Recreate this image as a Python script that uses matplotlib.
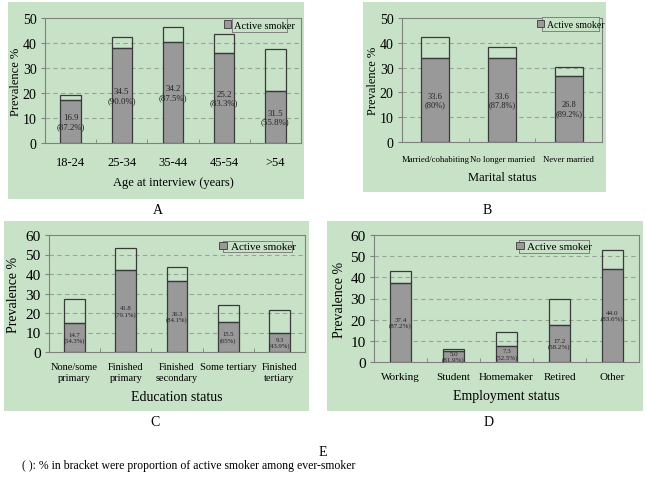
import numpy as np
import matplotlib
matplotlib.use("Agg")
import matplotlib.pyplot as plt
from matplotlib.patches import Rectangle, Patch

plt.rcParams['font.family'] = ['Liberation Serif', 'DejaVu Serif']

W, H = 647, 481
GREEN = '#c8e2c8'
BAR_GRAY = '#999999'
EDGE = '#3a3a3a'
FRAME = '#808080'

# panel A - age
a_cats = ['18-24', '25-34', '35-44', '45-54', '>54']
a_total = [19.4, 42.3, 46.3, 43.6, 37.5]
a_active = [17.2, 37.9, 40.3, 35.9, 20.8]
a_val = ['16.9', '34.5', '34.2', '25.2', '31.5']
a_pct = ['(87.2%)', '(90.0%)', '(87.5%)', '(83.3%)', '(55.8%)']

# panel B - marital
b_cats = ['Married/cohabiting', 'No longer married', 'Never married']
b_total = [42.2, 38.4, 30.3]
b_active = [33.7, 33.7, 26.8]
b_val = ['33.6', '33.6', '26.8']
b_pct = ['(80%)', '(87.8%)', '(89.2%)']

# panel C - education
c_cats = ['None/some\nprimary', 'Finished\nprimary', 'Finished\nsecondary',
          'Some tertiary', 'Finished\ntertiary']
c_total = [27.4, 53.1, 43.4, 24.0, 21.6]
c_active = [14.9, 42.0, 36.6, 15.4, 9.6]
c_val = ['14.7', '41.8', '36.3', '15.5', '9.3']
c_pct = ['(54.3%)', '(79.1%)', '(84.1%)', '(65%)', '(43.9%)']

# panel D - employment
d_cats = ['Working', 'Student', 'Homemaker', 'Retired', 'Other']
d_total = [42.8, 6.2, 14.2, 29.7, 52.9]
d_active = [37.3, 5.0, 7.5, 17.3, 43.9]
d_val = ['37.4', '5.0', '7.3', '17.2', '44.0']
d_pct = ['(87.2%)', '(81.9%)', '(52.5%)', '(58.2%)', '(83.6%)']


def px_box(x0, y0, x1, y1):
    # pixel box (top-left origin) -> figure fraction rect
    return [x0 / W, 1 - y1 / H, (x1 - x0) / W, (y1 - y0) / H]


fig = plt.figure(figsize=(W / 100, H / 100), dpi=100)
fig.patch.set_facecolor('white')


def green_bg(x0, y0, x1, y1):
    b = px_box(x0, y0, x1, y1)
    fig.patches.append(Rectangle((b[0], b[1]), b[2], b[3], transform=fig.transFigure,
                                 facecolor=GREEN, edgecolor='none', zorder=-10))


def panel(box, cats, total, active, vals, pcts, ymax, xlabel,
          tick_fs, lab_fs, ann_fs, leg_fs, leg_box, ylab_x, xlab_y,
          width=0.4, xpad=4):
    ax = fig.add_axes(px_box(*box))
    ax.set_facecolor('none')
    x = np.arange(len(cats))
    active = np.array(active)
    total = np.array(total)
    ax.bar(x, active, width, color=BAR_GRAY, edgecolor=EDGE, linewidth=0.9, zorder=3)
    ax.bar(x, total - active, width, bottom=active, color='none',
           edgecolor=EDGE, linewidth=0.9, zorder=3)
    for xi, h, v, p in zip(x, active, vals, pcts):
        ax.text(xi, h / 2, v + '\n' + p, ha='center', va='center',
                fontsize=ann_fs, color='#222222', linespacing=1.1, zorder=4)
    ax.set_xlim(-0.5, len(cats) - 0.5)
    ax.set_ylim(0, ymax)
    ax.set_yticks(np.arange(0, ymax + 1, 10))
    for yv in np.arange(10, ymax, 10):
        ax.axhline(yv, color='#95a595', lw=0.8, ls=(0, (4, 3)), zorder=1)
    ax.set_xticks(x)
    ax.set_xticklabels(cats, fontsize=tick_fs, linespacing=1.3)
    ax.set_xticks(np.arange(-0.5, len(cats)), minor=True)
    ax.tick_params(axis='x', which='major', length=0, pad=xpad)
    ax.tick_params(axis='x', which='minor', length=3, direction='in', color=FRAME)
    ax.tick_params(axis='y', labelsize=lab_fs + 1, length=3, color=FRAME, pad=3)
    for s in ax.spines.values():
        s.set_color(FRAME)
        s.set_linewidth(0.8)
    ax.set_xlabel(xlabel, fontsize=lab_fs)
    ax.set_ylabel('Prevalence %', fontsize=lab_fs)
    bw, bh = box[2] - box[0], box[3] - box[1]
    ax.yaxis.set_label_coords((ylab_x - box[0]) / bw, 0.5)
    ax.xaxis.set_label_coords(0.5, (box[3] - xlab_y) / bh)
    ax.yaxis.label.set_va('center')
    ax.xaxis.label.set_va('center')
    # legend drawn as a box in pixel coords
    lb = px_box(*leg_box)
    leg = fig.add_axes(lb)
    leg.set_xticks([])
    leg.set_yticks([])
    leg.set_facecolor(GREEN)
    for s in leg.spines.values():
        s.set_color(FRAME)
        s.set_linewidth(0.7)
    leg.legend(handles=[Patch(facecolor=BAR_GRAY, edgecolor=EDGE, linewidth=0.6,
                              label='Active smoker')],
               loc='center', frameon=False, fontsize=leg_fs, handlelength=0.7,
               handleheight=0.7, handletextpad=0.3, borderpad=0, borderaxespad=0)
    return ax


green_bg(8, 3, 304, 200)
green_bg(363, 3, 606, 193)
green_bg(4, 222, 309, 412)
green_bg(327, 222, 643, 412)

panel((45, 19, 301, 144), a_cats, a_total, a_active, a_val, a_pct, 50,
      'Age at interview (years)', 9, 9, 6.3, 7.5, (232, 19, 287, 33),
      ylab_x=16, xlab_y=183, width=0.4, xpad=9)

panel((402, 19, 602, 143), b_cats, b_total, b_active, b_val, b_pct, 50,
      'Marital status', 6.3, 9, 6, 7, (542, 18, 599, 32),
      ylab_x=373, xlab_y=178, width=0.42, xpad=9)

panel((49, 236, 305, 353), c_cats, c_total, c_active, c_val, c_pct, 60,
      'Education status', 7.5, 10, 4.8, 8, (223, 242, 292, 253),
      ylab_x=14, xlab_y=398, width=0.41, xpad=7)

panel((374, 236, 639, 363), d_cats, d_total, d_active, d_val, d_pct, 60,
      'Employment status', 8, 10, 5, 8, (519, 241, 589, 254),
      ylab_x=340, xlab_y=397, width=0.4, xpad=7)

for lbl, (px, py) in zip(['A', 'B', 'C', 'D', 'E'],
                         [(158, 211), (487, 211), (155, 423), (489, 423), (323, 452)]):
    fig.text(px / W, 1 - py / H, lbl, ha='center', va='center', fontsize=10)

fig.text(22 / W, 1 - 466 / H,
         '( ): % in bracket were proportion of active smoker among ever-smoker',
         ha='left', va='center', fontsize=8.5)

fig.savefig('out.png', dpi=100)
